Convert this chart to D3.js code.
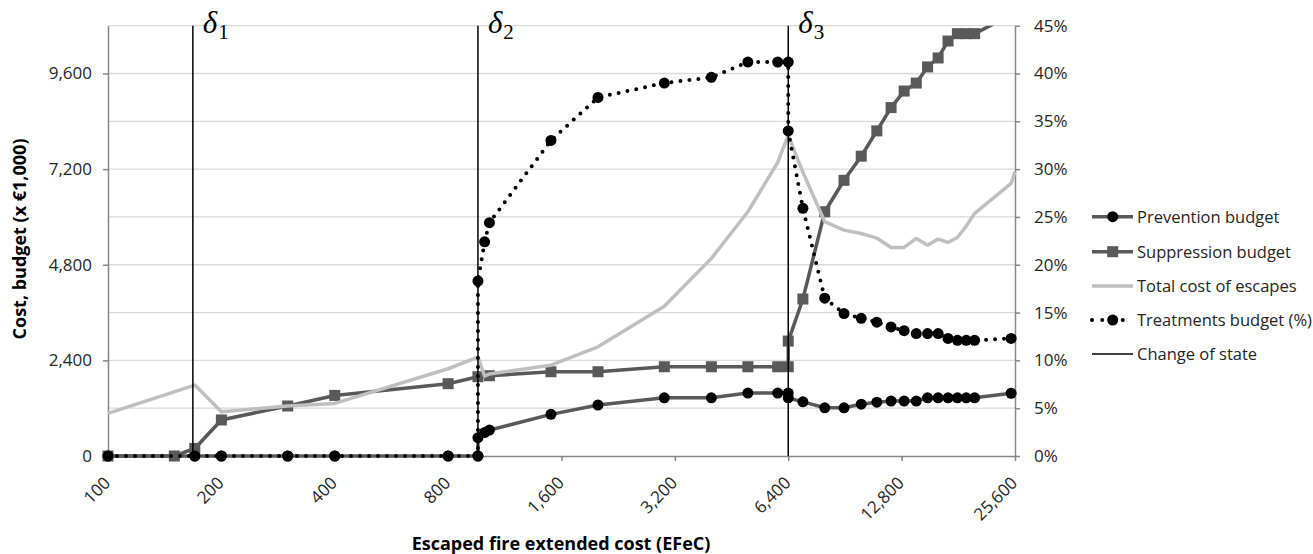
<!DOCTYPE html>
<html>
<head>
<meta charset="utf-8">
<title>Budgets vs escaped fire extended cost</title>
<script src="https://cdn.jsdelivr.net/npm/d3@7"></script>
<style>
body { margin: 0; background: #fff; }
svg text { font-family: "Open Sans", sans-serif; fill: #262626; }
.grid line { stroke: #d9d9d9; stroke-width: 1.3px; }
.axis path, .axis line { stroke: #868686; stroke-width: 1.5px; }
.axis text { font-size: 17px; font-family: "Open Sans", sans-serif; fill: #262626; }
.title { font-size: 18px; font-weight: bold; fill: #000; }
.legend text { font-size: 16.5px; }
.delta { font-family: "Liberation Serif", serif; fill: #000; }
</style>
</head>
<body>
<svg id="chart" width="1313" height="554"></svg>
<script>

// EFeC values (x) and series values
var preventionX = [100, 170, 200, 300, 400, 800, 960, 960, 1000, 1030, 1500, 2000, 3000, 4000, 5000, 6000, 6400, 6400, 7000, 8000, 9000, 10000, 11000, 12000, 13000, 14000, 15000, 16000, 17000, 18000, 19000, 20000, 25000];
var preventionY = [0, 0, 0, 0, 0, 0, 0, 460, 590, 650, 1045, 1280, 1460, 1460, 1580, 1580, 1580, 1460, 1360, 1210, 1210, 1300, 1350, 1380, 1380, 1380, 1460, 1460, 1460, 1460, 1460, 1460, 1575];

var suppressionX = [100, 150, 170, 200, 300, 400, 800, 960, 1030, 1500, 2000, 3000, 4000, 5000, 6000, 6400, 6400, 7000, 8000, 9000, 10000, 11000, 12000, 13000, 14000, 15000, 16000, 17000, 18000, 19000, 20000, 25000];
var suppressionY = [0, 0, 190, 905, 1255, 1520, 1815, 1990, 2015, 2115, 2115, 2240, 2240, 2240, 2240, 2240, 2885, 3940, 6130, 6920, 7525, 8160, 8745, 9160, 9360, 9765, 9990, 10415, 10600, 10600, 10600, 11070];

var totalX = [100, 170, 200, 300, 400, 800, 960, 1000, 1030, 1500, 2000, 3000, 4000, 5000, 6000, 6400, 7000, 8000, 9000, 10000, 11000, 12000, 13000, 14000, 15000, 16000, 17000, 18000, 19000, 20000, 25000, 25600];
var totalY = [1070, 1780, 1110, 1255, 1320, 2190, 2480, 2005, 2060, 2280, 2740, 3760, 4960, 6130, 7370, 8050, 7120, 5880, 5670, 5585, 5470, 5235, 5235, 5460, 5290, 5445, 5360, 5485, 5770, 6090, 6840, 7130];

// treatments budget, % (right axis)
var treatmentsX = [100, 170, 200, 300, 400, 800, 960, 960, 1000, 1030, 1500, 2000, 3000, 4000, 5000, 6000, 6400, 6400, 7000, 8000, 9000, 10000, 11000, 12000, 13000, 14000, 15000, 16000, 17000, 18000, 19000, 20000, 25000];
var treatmentsY = [0, 0, 0, 0, 0, 0, 0, 18.3, 22.4, 24.4, 33.0, 37.5, 39.0, 39.6, 41.2, 41.2, 41.2, 34.0, 25.9, 16.5, 14.9, 14.4, 14.0, 13.5, 13.1, 12.8, 12.8, 12.8, 12.3, 12.1, 12.1, 12.1, 12.3];

var stateChanges = [168, 960, 6400];
var stateNames = ["1", "2", "3"];

var xTickValues = [100, 200, 400, 800, 1600, 3200, 6400, 12800, 25600];
var costTickValues = [0, 2400, 4800, 7200, 9600];
var pctTickValues = [0, 5, 10, 15, 20, 25, 30, 35, 40, 45];

var legendNames = ["Prevention budget", "Suppression budget", "Total cost of escapes", "Treatments budget (%)", "Change of state"];

var svg = d3.select("#chart");

var plotLeft = 108, plotRight = 1015, plotTop = 25.7, plotBottom = 456;

var x = d3.scaleLog().base(2).domain([100, 25600]).range([plotLeft, plotRight]);
var yCost = d3.scaleLinear().domain([0, 10800]).range([plotBottom, plotTop]);
var yPct = d3.scaleLinear().domain([0, 45]).range([plotBottom, plotTop]);

var dark = "#595959", light = "#bfbfbf";
var markerR = 5.5;

svg.append("clipPath").attr("id", "plotclip")
  .append("rect")
    .attr("x", 0).attr("y", plotTop)
    .attr("width", 1313).attr("height", 600);

// gridlines every 5% (= 1,200)
svg.append("g").attr("class", "grid")
  .selectAll("line")
  .data(pctTickValues.slice(1))
  .enter().append("line")
    .attr("x1", plotLeft).attr("x2", plotRight)
    .attr("y1", function(d) { return yPct(d); })
    .attr("y2", function(d) { return yPct(d); });

// axes
var xAxis = svg.append("g").attr("class", "axis")
    .attr("transform", "translate(0," + plotBottom + ")")
    .call(d3.axisBottom(x).tickValues(xTickValues).tickFormat(d3.format(",")).tickSize(5).tickSizeOuter(0));
xAxis.selectAll("text")
    .attr("x", 0).attr("y", 0).attr("dy", 0)
    .attr("text-anchor", "end")
    .attr("transform", "translate(3,28) rotate(-45)");

svg.append("g").attr("class", "axis")
    .attr("transform", "translate(" + plotLeft + ",0)")
    .call(d3.axisLeft(yCost).tickValues(costTickValues).tickFormat(d3.format(",")).tickSize(5).tickSizeOuter(0).tickPadding(11));

svg.append("g").attr("class", "axis")
    .attr("transform", "translate(" + plotRight + ",0)")
    .call(d3.axisRight(yPct).tickValues(pctTickValues).tickFormat(function(d) { return d + "%"; }).tickSize(5).tickSizeOuter(0).tickPadding(14));

svg.selectAll(".axis .domain").attr("fill", "none");

// axis titles
svg.append("text").attr("class", "title")
    .attr("x", 561).attr("y", 550)
    .attr("text-anchor", "middle")
    .text("Escaped fire extended cost (EFeC)");

svg.append("text").attr("class", "title")
    .attr("transform", "translate(26,239) rotate(-90)")
    .attr("text-anchor", "middle")
    .text("Cost, budget (x €1,000)");

var plot = svg.append("g").attr("clip-path", "url(#plotclip)");

function pairs(xs, ys) { return d3.zip(xs, ys); }

function lineFor(yScale) {
  return d3.line()
    .x(function(d) { return x(d[0]); })
    .y(function(d) { return yScale(d[1]); });
}

// prevention budget
var prevention = pairs(preventionX, preventionY);
plot.append("path").datum(prevention)
    .attr("fill", "none").attr("stroke", dark).attr("stroke-width", 3.5)
    .attr("d", lineFor(yCost));
plot.append("g").selectAll("circle")
    .data(prevention)
    .enter().append("circle")
      .attr("cx", function(d) { return x(d[0]); })
      .attr("cy", function(d) { return yCost(d[1]); })
      .attr("r", markerR).attr("fill", "#000");

// suppression budget
var suppression = pairs(suppressionX, suppressionY);
plot.append("path").datum(suppression)
    .attr("fill", "none").attr("stroke", dark).attr("stroke-width", 3.5)
    .attr("d", lineFor(yCost));
plot.append("g").selectAll("rect")
    .data(suppression)
    .enter().append("rect")
      .attr("x", function(d) { return x(d[0]) - 5.5; })
      .attr("y", function(d) { return yCost(d[1]) - 5.5; })
      .attr("width", 11).attr("height", 11)
      .attr("fill", dark);

// total cost of escapes
plot.append("path").datum(pairs(totalX, totalY))
    .attr("fill", "none").attr("stroke", light).attr("stroke-width", 3.5)
    .attr("stroke-linejoin", "round")
    .attr("d", lineFor(yCost));

// treatments budget (%)
var treatments = pairs(treatmentsX, treatmentsY);
plot.append("path").datum(treatments)
    .attr("fill", "none").attr("stroke", "#000").attr("stroke-width", 4)
    .attr("stroke-linecap", "round").attr("stroke-dasharray", "0,9")
    .attr("d", lineFor(yPct));
plot.append("g").selectAll("circle")
    .data(treatments)
    .enter().append("circle")
      .attr("cx", function(d) { return x(d[0]); })
      .attr("cy", function(d) { return yPct(d[1]); })
      .attr("r", markerR).attr("fill", "#000");

// change of state lines + delta labels
svg.append("g").selectAll("line")
    .data(stateChanges)
    .enter().append("line")
      .attr("x1", function(d) { return x(d); }).attr("x2", function(d) { return x(d); })
      .attr("y1", yCost(0)).attr("y2", yCost(10800))
      .attr("stroke", "#000").attr("stroke-width", 1.5);

var delta = svg.append("g").selectAll("text")
    .data(stateChanges)
    .enter().append("text")
      .attr("class", "delta")
      .attr("x", function(d) { return x(d) + 10; })
      .attr("y", 33);
delta.append("tspan")
    .attr("font-style", "italic").attr("font-size", 31)
    .text("δ");
delta.append("tspan")
    .attr("font-size", 21).attr("dy", 6).attr("dx", 1)
    .text(function(d, i) { return stateNames[i]; });

// legend
var legendX1 = 1092, legendX2 = 1133, legendMid = 1112.7, legendTextX = 1137;
var legendY = [216.7, 251.7, 286, 320, 354];
var legend = svg.append("g").attr("class", "legend");

legend.append("line")
    .attr("x1", legendX1).attr("x2", legendX2).attr("y1", legendY[0]).attr("y2", legendY[0])
    .attr("stroke", dark).attr("stroke-width", 3.5);
legend.append("circle").attr("cx", legendMid).attr("cy", legendY[0]).attr("r", markerR).attr("fill", "#000");

legend.append("line")
    .attr("x1", legendX1).attr("x2", legendX2).attr("y1", legendY[1]).attr("y2", legendY[1])
    .attr("stroke", dark).attr("stroke-width", 3.5);
legend.append("rect").attr("x", legendMid - 5.5).attr("y", legendY[1] - 5.5)
    .attr("width", 11).attr("height", 11).attr("fill", dark);

legend.append("line")
    .attr("x1", legendX1).attr("x2", legendX2).attr("y1", legendY[2]).attr("y2", legendY[2])
    .attr("stroke", light).attr("stroke-width", 3.5);

legend.append("line")
    .attr("x1", legendX1).attr("x2", legendX2).attr("y1", legendY[3]).attr("y2", legendY[3])
    .attr("stroke", "#000").attr("stroke-width", 4)
    .attr("stroke-linecap", "round").attr("stroke-dasharray", "0,10.25");
legend.append("circle").attr("cx", legendMid).attr("cy", legendY[3]).attr("r", markerR).attr("fill", "#000");

legend.append("line")
    .attr("x1", legendX1).attr("x2", legendX2).attr("y1", legendY[4]).attr("y2", legendY[4])
    .attr("stroke", "#000").attr("stroke-width", 1.5);

legend.selectAll("text")
    .data(legendNames)
    .enter().append("text")
      .attr("x", legendTextX)
      .attr("y", function(d, i) { return legendY[i] + 6; })
      .text(function(d) { return d; });

</script>
</body>
</html>
